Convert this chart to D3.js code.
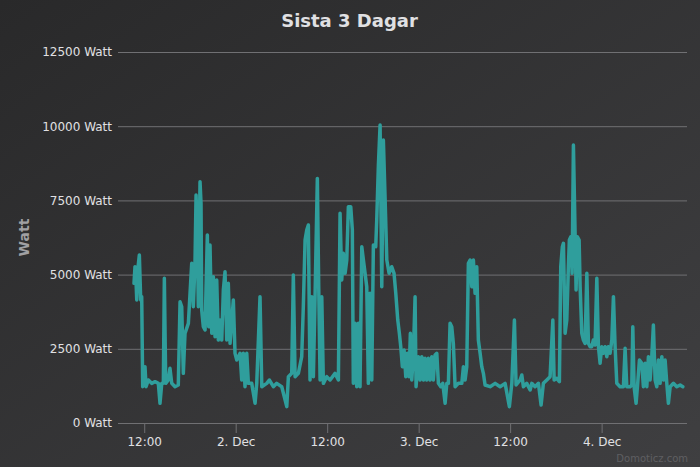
<!DOCTYPE html>
<html><head><meta charset="utf-8">
<script src="https://cdnjs.cloudflare.com/ajax/libs/d3/7.8.5/d3.min.js"></script>
<style>html,body{margin:0;padding:0;background:#2a2a2b;}svg{display:block;}</style>
</head><body>
<script>
const chartTitle = "Sista 3 Dagar";
const yAxisTitle = "Watt";
const watermark = "Domoticz.com";
const yTicks = [0, 2500, 5000, 7500, 10000, 12500];
// hours since 1 Dec 00:00
const hours = [10.66,10.79,10.92,11.02,11.15,11.36,11.54,11.67,11.80,11.97,12.10,12.24,12.54,12.98,13.42,13.85,14.07,14.30,14.51,14.64,14.82,15.16,15.38,15.61,16.04,16.47,16.70,16.92,17.13,17.35,17.79,18.01,18.23,18.44,18.66,18.80,18.97,19.10,19.32,19.45,19.54,19.75,19.98,20.28,20.46,20.63,20.86,21.07,21.29,21.51,21.72,21.94,22.17,22.38,22.60,22.82,23.03,23.26,23.69,23.91,24.14,24.57,24.79,25.00,25.22,25.45,25.66,26.10,26.54,26.76,27.19,27.42,28.07,28.41,28.94,29.38,30.04,30.70,30.91,31.35,31.56,31.79,32.22,32.66,32.87,33.10,33.32,33.53,33.75,33.98,34.19,34.41,34.71,34.89,35.07,35.29,35.50,35.94,
36.38,37.03,37.47,37.69,37.91,38.12,38.35,38.57,38.78,39.09,39.30,39.43,39.66,39.88,40.09,40.31,40.54,40.75,40.97,41.19,41.40,41.63,41.85,42.06,42.37,42.50,42.71,42.94,43.16,43.37,43.59,43.82,44.12,44.47,44.77,45.00,45.26,45.47,45.65,45.86,46.09,46.31,46.52,46.74,46.91,47.10,47.31,47.53,47.66,47.96,48.19,48.41,48.62,48.84,49.06,49.27,49.50,49.72,49.93,50.15,50.38,50.59,50.90,51.16,51.47,51.69,51.90,52.12,52.34,52.55,52.78,53.21,53.66,53.87,54.09,54.31,54.52,54.75,54.97,55.18,55.40,55.62,55.83,56.06,56.28,56.49,56.71,57.37,58.03,58.68,59.34,59.90,60.22,60.56,60.78,61.31,61.53,61.74,62.18,62.62,62.84,63.27,63.71,64.06,64.36,64.81,65.24,65.60,65.77,66.12,66.46,66.64,66.85,66.99,67.21,67.43,67.64,67.77,67.96,68.13,68.30,68.52,68.65,68.82,69.05,69.18,69.40,69.61,69.83,70.06,70.27,70.49,70.71,70.92,71.14,71.37,71.58,71.80,72.02,72.23,72.46,72.68,72.89,73.11,73.34,73.55,73.77,73.99,74.42,74.86,75.08,75.30,75.74,75.96,76.09,76.26,76.52,76.70,76.96,77.27,77.48,77.71,77.93,78.14,78.36,78.58,78.79,79.02,79.24,79.45,79.67,79.90,80.11,80.33,80.55,80.76,80.99,81.42,81.86,82.30,82.65];
const watts = [4706,5266,4818,4144,5155,5660,4144,4256,1223,1336,1897,1223,1449,1336,1392,1336,663,1336,1336,4874,1336,1449,1842,1336,1223,1280,4087,3918,1673,3021,3358,4369,5380,3918,5380,7681,6277,3918,8130,7402,3807,3245,3133,6334,3245,5997,3021,4930,2908,4818,2796,3470,2796,4481,5098,2796,4706,2683,4144,2347,2122,2347,1449,2347,1223,2347,1336,1336,663,1336,4256,1223,1336,1449,1223,1336,1223,550,1561,1673,4987,1561,1673,2235,3918,6166,6503,6671,1449,4256,1561,4256,8242,4593,1449,4256,1336,1561,
1449,1673,1449,7065,4818,5717,5043,5491,7290,7290,6503,1336,3358,1223,3358,1223,5941,5491,5043,4593,1336,4369,1449,5997,5941,6839,8635,10040,4593,9535,7625,5491,5043,5266,5043,4369,3470,3021,2571,1897,2459,1561,2347,1561,3021,1449,2347,4256,1223,2235,1449,2235,1449,2178,1449,2178,1449,2235,1449,2291,2347,1336,1223,1336,663,1336,1336,3358,3245,2683,1223,1336,1336,1897,1449,1897,5380,5491,4593,5491,4369,5266,2796,2347,1897,1673,1280,1223,1336,1223,1336,550,1336,3470,1280,1449,1617,1223,1336,1112,1336,1223,1336,606,1336,1449,1561,3470,1449,1505,1392,5266,5941,6053,3021,3470,5266,6166,6277,5043,9366,6390,4481,6277,6166,4593,3021,2796,2683,5043,2683,2571,2571,2796,2627,4874,2571,2010,2571,2347,2571,2235,2571,2347,2796,4256,2571,1336,1223,1223,2515,1223,1223,1280,3245,1223,663,1223,2122,2010,1223,2010,1223,2235,1449,2235,3302,1449,1223,2122,1336,2235,1449,2122,1336,663,1223,1336,1223,1280,1223];

const W = 700, H = 467;
const FONT = "'DejaVu Sans', sans-serif";
const base = new Date(2015, 11, 1, 0, 0, 0).getTime();
const toDate = h => new Date(base + h * 3600e3);
const data = hours.map((h, i) => ({t: toDate(h), v: watts[i]}));

const pLeft = 118, pRight = 687, pTop = 52, pBottom = 423;
const x = d3.scaleTime().domain([toDate(8.56), toDate(83.2)]).range([pLeft, pRight]);
const y = d3.scaleLinear().domain([0, 12500]).range([pBottom, pTop]);

const svg = d3.select("body").append("svg").attr("width", W).attr("height", H)
  .style("font-family", FONT);
const defs = svg.append("defs");
const g = defs.append("linearGradient").attr("id", "bg")
  .attr("x1", 0).attr("y1", 0).attr("x2", 1).attr("y2", 1);
g.append("stop").attr("offset", "0%").attr("stop-color", "#29292a");
g.append("stop").attr("offset", "100%").attr("stop-color", "#3f3f41");
svg.append("rect").attr("width", W).attr("height", H).attr("fill", "url(#bg)");

// title
svg.append("text").attr("x", 349.5).attr("y", 27).attr("text-anchor", "middle")
  .attr("fill", "#E0E0E3").style("font-family", FONT).style("font-size", "18px")
  .style("font-weight", "bold").text(chartTitle);

// y grid + labels
const yAxis = d3.axisLeft(y).tickValues(yTicks).tickSize(-(pRight - pLeft)).tickPadding(6)
  .tickFormat(d => d + " Watt");
const ya = svg.append("g").attr("transform", `translate(${pLeft},0)`).call(yAxis)
  .attr("font-family", null).attr("font-size", null);
ya.select(".domain").remove();
ya.selectAll(".tick line").attr("stroke", "#707073").attr("stroke-width", 1);
ya.selectAll(".tick text").attr("fill", "#E0E0E3").style("font-family", FONT).style("font-size", "12px")
  .attr("x", -6).attr("dy", "0.33em");

// y axis title
svg.append("text").attr("transform", "translate(29,237.5) rotate(-90)")
  .attr("text-anchor", "middle").attr("fill", "#A0A0A3").style("font-family", FONT)
  .style("font-size", "14px").style("font-weight", "bold").text(yAxisTitle);

// x axis
const fmt = d => (d.getHours() === 0 ? d3.timeFormat("%-d. %b")(d) : d3.timeFormat("%H:%M")(d));
const xAxis = d3.axisBottom(x).ticks(d3.timeHour.every(12)).tickSize(10).tickPadding(4).tickFormat(fmt);
const xa = svg.append("g").attr("transform", `translate(0,${pBottom})`).call(xAxis)
  .attr("font-family", null).attr("font-size", null);
xa.select(".domain").attr("stroke", "#707073").attr("d", `M${pLeft},0.5H${pRight}`);
xa.selectAll(".tick line").attr("stroke", "#707073");
xa.selectAll(".tick text").attr("fill", "#E0E0E3").style("font-family", FONT).style("font-size", "12px");

// line
const line = d3.line().x(d => x(d.t)).y(d => y(d.v));
svg.append("path").datum(data).attr("d", line).attr("fill", "none")
  .attr("stroke", "#2f9e9c").attr("stroke-width", 3.5)
  .attr("stroke-linejoin", "round").attr("stroke-linecap", "round");

// watermark
svg.append("text").attr("x", 688).attr("y", 461.5).attr("text-anchor", "end")
  .attr("fill", "#5f5f62").style("font-family", FONT).style("font-size", "10px").text(watermark);
</script>
</body></html>
